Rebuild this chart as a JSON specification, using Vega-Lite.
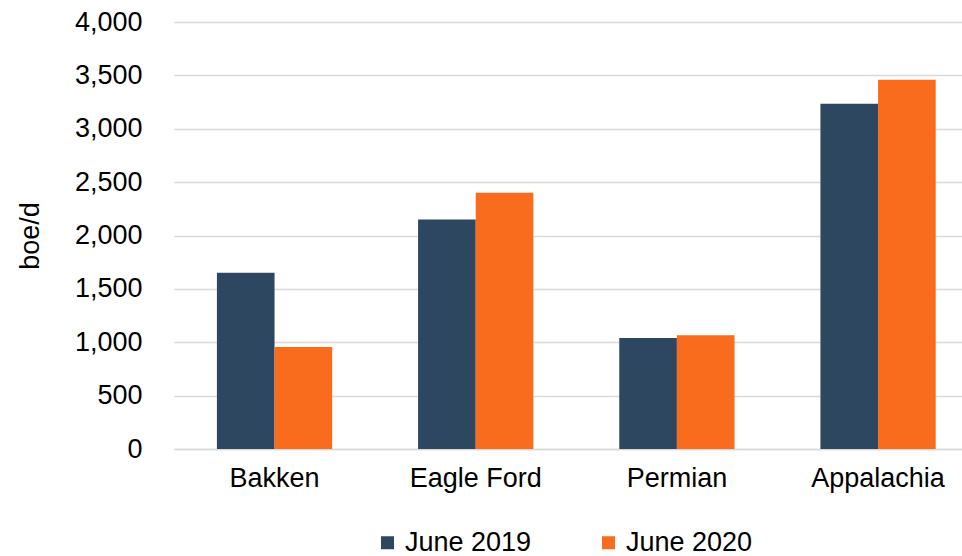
{
  "$schema": "https://vega.github.io/schema/vega-lite/v6.json",
  "width": 962,
  "height": 556,
  "autosize": {"type": "fit", "contains": "padding"},
  "padding": {"left": 16, "top": 8, "right": 0, "bottom": 65},
  "background": "white",
  "data": {
    "values": [
      {"basin": "Bakken", "period": "June 2019", "value": 1650},
      {"basin": "Bakken", "period": "June 2020", "value": 955},
      {"basin": "Eagle Ford", "period": "June 2019", "value": 2150},
      {"basin": "Eagle Ford", "period": "June 2020", "value": 2400},
      {"basin": "Permian", "period": "June 2019", "value": 1040},
      {"basin": "Permian", "period": "June 2020", "value": 1065},
      {"basin": "Appalachia", "period": "June 2019", "value": 3235},
      {"basin": "Appalachia", "period": "June 2020", "value": 3460}
    ]
  },
  "mark": {"type": "bar"},
  "encoding": {
    "x": {
      "field": "basin",
      "type": "nominal",
      "sort": ["Bakken", "Eagle Ford", "Permian", "Appalachia"],
      "scale": {"paddingInner": 0.427, "paddingOuter": 0.172, "align": 0.62},
      "axis": {
        "title": null,
        "labelAngle": 0,
        "labelFont": "Liberation Sans",
        "labelFontSize": 27,
        "labelColor": "#000000",
        "labelPadding": 16,
        "ticks": false,
        "domainColor": "#d9d9d9",
        "domainWidth": 1.5,
        "grid": false
      }
    },
    "xOffset": {
      "field": "period",
      "type": "nominal",
      "scale": {"paddingInner": 0, "paddingOuter": 0}
    },
    "y": {
      "field": "value",
      "type": "quantitative",
      "scale": {"domain": [0, 4000], "nice": false},
      "axis": {
        "title": "boe/d",
        "titleFont": "Liberation Sans",
        "titleFontSize": 27,
        "titleFontWeight": "normal",
        "titleColor": "#000000",
        "titlePadding": 30,
        "values": [0, 500, 1000, 1500, 2000, 2500, 3000, 3500, 4000],
        "format": ",.0f",
        "labelFont": "Liberation Sans",
        "labelFontSize": 27,
        "labelColor": "#000000",
        "labelPadding": 32,
        "ticks": false,
        "domain": false,
        "grid": true,
        "gridColor": "#d9d9d9",
        "gridWidth": 1.5
      }
    },
    "color": {
      "field": "period",
      "type": "nominal",
      "scale": {"domain": ["June 2019", "June 2020"], "range": ["#2d4760", "#f96b1d"]},
      "legend": {
        "title": null,
        "orient": "none",
        "legendX": 200,
        "legendY": 507,
        "direction": "horizontal",
        "symbolType": "square",
        "symbolSize": 169,
        "symbolStrokeWidth": 0,
        "labelFont": "Liberation Sans",
        "labelFontSize": 27,
        "labelColor": "#000000",
        "labelOffset": 4,
        "columnPadding": 63
      }
    }
  },
  "config": {"view": {"stroke": null}}
}
